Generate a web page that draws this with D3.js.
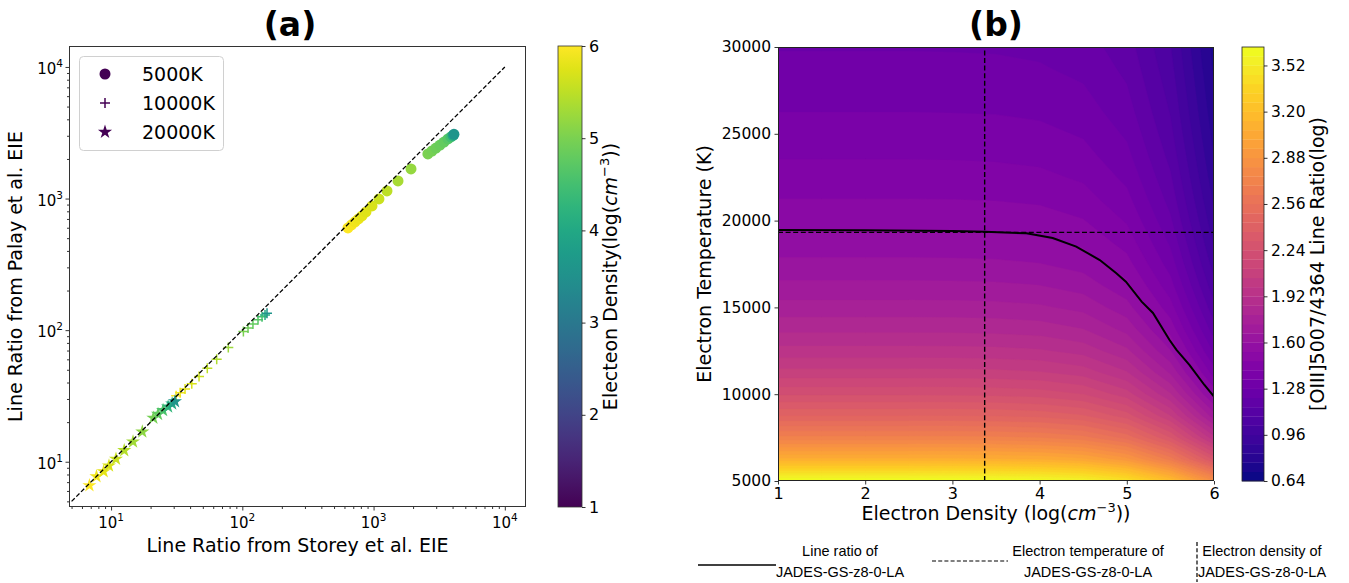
<!DOCTYPE html>
<meta charset="utf-8">
<body>
</body>
<style>
	body { margin: 0; background: #fff; }
	svg text { font-family: "DejaVu Sans", sans-serif; fill: #000; }
	.legendB { font-family: "Liberation Sans", "DejaVu Sans", sans-serif; }
</style>
<script src="https://d3js.org/d3.v7.min.js"></script>
<script>

// ---------- panel (a): line ratios ----------
var storey5000 = [638, 679, 722, 767, 816, 875, 973, 1099, 1265, 1535, 1928, 2594, 2785, 2987, 3206, 3439, 3689, 3883, 4027, 4096];
var palay5000  = [598, 631, 665, 700, 738, 791, 879, 993, 1143, 1361, 1680, 2183, 2298, 2421, 2551, 2689, 2838, 2938, 3016, 3077];
var dens5000   = [6.0, 5.95, 5.9, 5.85, 5.8, 5.75, 5.7, 5.6, 5.5, 5.35, 5.2, 5.0, 4.95, 4.9, 4.85, 4.8, 4.7, 4.5, 4.1, 3.6];

var storey10000 = [31.3, 33.6, 36.6, 41.2, 46.8, 54.1, 63.8, 78.2, 101.9, 110.5, 120.5, 131.7, 141.3, 148.9, 154.2];
var palay10000  = [31.7, 33.4, 35.7, 39.1, 44.4, 51.4, 60.2, 73.8, 97.5, 104, 111.6, 119.7, 126.2, 130.6, 134.6];
var dens10000   = [6.0, 5.9, 5.8, 5.7, 5.6, 5.5, 5.4, 5.25, 5.0, 4.9, 4.8, 4.7, 4.5, 4.1, 3.6];

var storey20000 = [6.84, 7.74, 8.78, 9.64, 10.9, 12.6, 14.7, 17.3, 21.0, 22.8, 24.9, 27.2, 29.2, 30.7];
var palay20000  = [6.6, 7.73, 8.44, 9.33, 10.5, 12.2, 14.2, 16.9, 21.5, 23.0, 24.6, 26.2, 27.6, 28.7];
var dens20000   = [6.0, 5.9, 5.8, 5.7, 5.6, 5.45, 5.3, 5.15, 4.95, 4.8, 4.6, 4.3, 4.0, 3.6];

var tempLabels = ["5000K", "10000K", "20000K"];
var decadeTicks = [10, 100, 1000, 10000];
var decadeExp = ["1", "2", "3", "4"];
var densTicks = [1, 2, 3, 4, 5, 6];

// ---------- panel (b): log line ratio grid (rows: temperature, top to bottom) ----------
var gridDensity = [1, 1.5, 2, 2.5, 3, 3.5, 4, 4.5, 5, 5.5, 6];
var gridTemp = [30000, 28750, 27500, 26250, 25000, 23750, 22500, 21250, 20000, 18750, 17500,
	16250, 15000, 13750, 12500, 11250, 10000, 8750, 7500, 6250, 5000];
var ratioGrid = [
	[1.276, 1.276, 1.276, 1.276, 1.275, 1.273, 1.266, 1.244, 1.182, 1.029, 0.741],
	[1.297, 1.297, 1.297, 1.297, 1.296, 1.294, 1.286, 1.264, 1.201, 1.046, 0.756],
	[1.320, 1.320, 1.320, 1.320, 1.319, 1.317, 1.309, 1.287, 1.222, 1.065, 0.772],
	[1.344, 1.344, 1.344, 1.344, 1.343, 1.341, 1.333, 1.310, 1.244, 1.084, 0.789],
	[1.372, 1.372, 1.372, 1.372, 1.371, 1.368, 1.361, 1.337, 1.270, 1.107, 0.809],
	[1.402, 1.402, 1.402, 1.402, 1.401, 1.398, 1.390, 1.366, 1.297, 1.132, 0.831],
	[1.435, 1.435, 1.435, 1.435, 1.434, 1.431, 1.423, 1.398, 1.328, 1.160, 0.855],
	[1.472, 1.472, 1.472, 1.472, 1.471, 1.468, 1.460, 1.434, 1.362, 1.191, 0.883],
	[1.514, 1.514, 1.514, 1.514, 1.513, 1.510, 1.501, 1.475, 1.401, 1.226, 0.915],
	[1.562, 1.562, 1.562, 1.562, 1.561, 1.558, 1.549, 1.522, 1.446, 1.268, 0.953],
	[1.616, 1.616, 1.616, 1.616, 1.615, 1.612, 1.602, 1.575, 1.496, 1.314, 0.995],
	[1.679, 1.679, 1.679, 1.679, 1.678, 1.675, 1.665, 1.636, 1.555, 1.369, 1.046],
	[1.753, 1.753, 1.753, 1.753, 1.752, 1.748, 1.738, 1.708, 1.625, 1.434, 1.107],
	[1.839, 1.839, 1.839, 1.839, 1.838, 1.834, 1.824, 1.792, 1.706, 1.510, 1.178],
	[1.943, 1.943, 1.943, 1.943, 1.942, 1.938, 1.927, 1.894, 1.805, 1.603, 1.266],
	[2.070, 2.070, 2.070, 2.070, 2.069, 2.065, 2.053, 2.019, 1.925, 1.717, 1.375],
	[2.229, 2.229, 2.229, 2.229, 2.228, 2.223, 2.211, 2.175, 2.077, 1.862, 1.513],
	[2.433, 2.433, 2.433, 2.433, 2.432, 2.427, 2.414, 2.375, 2.272, 2.049, 1.693],
	[2.705, 2.705, 2.705, 2.705, 2.704, 2.698, 2.684, 2.643, 2.533, 2.301, 1.938],
	[3.086, 3.086, 3.086, 3.086, 3.085, 3.079, 3.064, 3.019, 2.901, 2.658, 2.286],
	[3.658, 3.658, 3.658, 3.658, 3.657, 3.650, 3.633, 3.583, 3.455, 3.199, 2.816]
];
var ratioTicks = [0.64, 0.96, 1.28, 1.60, 1.92, 2.24, 2.56, 2.88, 3.20, 3.52];
var levelStep = 0.064, levelCount = 47;

// contour of the observed ratio, and the measured Te / ne
var lineDens = [1, 2, 3, 3.37, 3.85, 4.15, 4.42, 4.69, 4.88, 4.99, 5.17, 5.30, 5.49, 5.57, 5.72, 5.89, 6.0];
var lineTemp = [19460, 19440, 19400, 19360, 19270, 19000, 18500, 17730, 16970, 16480, 15330, 14680, 13120, 12550, 11680, 10530, 9860];
var measDens = 3.37, measTemp = 19320;

var tempTicks = [5000, 10000, 15000, 20000, 25000, 30000];
var legendB = [["Line ratio of", "JADES-GS-z8-0-LA"],
	["Electron temperature of", "JADES-GS-z8-0-LA"],
	["Electron density of", "JADES-GS-z8-0-LA"]];

var width = 1349, height = 583;
var svg = d3.select("body").append("svg")
	.attr("width", width)
	.attr("height", height);

/*
 * Tidies a d3 axis so it looks like matplotlib.
 */
function styleAxis(g, size) {
	g.select(".domain").remove();
	g.attr("font-family", "DejaVu Sans").attr("font-size", size || 15);
	g.selectAll(".tick line").attr("stroke", "#000").attr("stroke-width", 0.8);
	g.selectAll(".tick text").attr("fill", "#000");
}

/*
 * Writes "10" with a raised exponent.
 */
function powerLabel(sel, exp) {
	sel.append("tspan").text("10");
	sel.append("tspan").attr("font-size", 10.5).attr("dy", -7).text(exp);
}

// ================= panel (a) =================
var pa = {left: 69, right: 526, top: 46, bottom: 507};
var xA = d3.scaleLog().domain([4.78, 14500]).range([pa.left, pa.right]);
var yA = d3.scaleLog().domain([4.53, 14430]).range([pa.bottom, pa.top]);
var viridis = d3.scaleSequential(d3.interpolateViridis).domain([1, 6]);

svg.append("clipPath").attr("id", "clipA").append("rect")
	.attr("x", pa.left).attr("y", pa.top)
	.attr("width", pa.right - pa.left).attr("height", pa.bottom - pa.top);

var minor = [];
[1, 10, 100, 1000, 10000].forEach(function (p) {
	for (var k = 2; k <= 9; k++) minor.push(k * p);
});
var minorX = minor.filter(function (v) { return v > xA.domain()[0] && v < xA.domain()[1]; });
var minorY = minor.filter(function (v) { return v > yA.domain()[0] && v < yA.domain()[1]; });

var plotA = svg.append("g").attr("clip-path", "url(#clipA)");

var seriesA = [
	{label: tempLabels[0], shape: "circle", x: storey5000, y: palay5000, d: dens5000},
	{label: tempLabels[1], shape: "plus", x: storey10000, y: palay10000, d: dens10000},
	{label: tempLabels[2], shape: "star", x: storey20000, y: palay20000, d: dens20000}
];

var starPath = d3.symbol(d3.symbolStar, 62)();
var plusPath = "M-5,0H5M0,-5V5";

function drawMarker(g, shape, color) {
	if (shape === "circle") {
		g.append("circle").attr("r", 5.5).attr("fill", color);
	} else if (shape === "plus") {
		g.append("path").attr("d", plusPath).attr("fill", "none")
			.attr("stroke", color).attr("stroke-width", 1.5);
	} else {
		g.append("path").attr("d", starPath).attr("fill", color);
	}
}

seriesA.forEach(function (s) {
	s.x.forEach(function (xv, i) {
		var g = plotA.append("g")
			.attr("transform", "translate(" + xA(xv) + "," + yA(s.y[i]) + ")");
		drawMarker(g, s.shape, viridis(s.d[i]));
	});
});

// one-to-one line
plotA.append("path")
	.attr("d", d3.line().x(function (d) { return xA(d); }).y(function (d) { return yA(d); })([5, 10000]))
	.attr("fill", "none").attr("stroke", "#000").attr("stroke-width", 1.3)
	.attr("stroke-dasharray", "4.5,2.2");

// axes (a)
var gxA = svg.append("g").attr("transform", "translate(0," + pa.bottom + ")")
	.call(d3.axisBottom(xA).tickValues(decadeTicks).tickFormat("").tickSize(3.5));
styleAxis(gxA);
var gxAm = svg.append("g").attr("transform", "translate(0," + pa.bottom + ")")
	.call(d3.axisBottom(xA).tickValues(minorX).tickFormat("").tickSize(2));
styleAxis(gxAm);
var gyA = svg.append("g").attr("transform", "translate(" + pa.left + ",0)")
	.call(d3.axisLeft(yA).tickValues(decadeTicks).tickFormat("").tickSize(3.5));
styleAxis(gyA);
var gyAm = svg.append("g").attr("transform", "translate(" + pa.left + ",0)")
	.call(d3.axisLeft(yA).tickValues(minorY).tickFormat("").tickSize(2));
styleAxis(gyAm);

decadeTicks.forEach(function (v, i) {
	if (v >= xA.domain()[0] && v <= xA.domain()[1]) {
		var t = svg.append("text").attr("x", xA(v)).attr("y", 528)
			.attr("text-anchor", "middle").attr("font-size", 15);
		powerLabel(t, decadeExp[i]);
	}
	if (v >= yA.domain()[0] && v <= yA.domain()[1]) {
		var u = svg.append("text").attr("x", pa.left - 6).attr("y", yA(v) + 7)
			.attr("text-anchor", "end").attr("font-size", 15);
		powerLabel(u, decadeExp[i]);
	}
});

svg.append("rect")
	.attr("x", pa.left + 0.5).attr("y", pa.top + 0.5)
	.attr("width", pa.right - pa.left - 1).attr("height", pa.bottom - pa.top - 1)
	.attr("fill", "none").attr("stroke", "#333").attr("stroke-width", 1);

// legend (a)
var legA = svg.append("g");
legA.append("rect").attr("x", 79.5).attr("y", 56.5).attr("width", 144).attr("height", 94)
	.attr("rx", 4).attr("fill", "#fff").attr("fill-opacity", 0.8)
	.attr("stroke", "#d0d0d0").attr("stroke-width", 1);
var legRows = [74, 103, 132];
seriesA.forEach(function (s, i) {
	var g = legA.append("g").attr("transform", "translate(105," + legRows[i] + ")");
	drawMarker(g, s.shape, viridis(1));
	legA.append("text").attr("x", 142).attr("y", legRows[i]).attr("dy", "0.36em")
		.attr("font-size", 19).text(s.label);
});

// titles and labels (a)
svg.append("text").attr("x", 290).attr("y", 36).attr("text-anchor", "middle")
	.attr("font-size", 33).attr("font-weight", "bold").text("(a)");
svg.append("text").attr("x", (pa.left + pa.right) / 2).attr("y", 552)
	.attr("text-anchor", "middle").attr("font-size", 19)
	.text("Line Ratio from Storey et al. EIE");
svg.append("text").attr("transform", "translate(22," + (pa.top + pa.bottom) / 2 + ") rotate(-90)")
	.attr("text-anchor", "middle").attr("font-size", 19)
	.text("Line Ratio from Palay et al. EIE");

// colorbar (a)
var cbA = {x: 558, w: 24, top: 46, bottom: 507};
var grad = svg.append("defs").append("linearGradient").attr("id", "viridisGrad")
	.attr("x1", 0).attr("y1", 1).attr("x2", 0).attr("y2", 0);
d3.range(0, 1.0001, 0.05).forEach(function (t) {
	grad.append("stop").attr("offset", t).attr("stop-color", d3.interpolateViridis(t));
});
svg.append("rect").attr("x", cbA.x).attr("y", cbA.top).attr("width", cbA.w)
	.attr("height", cbA.bottom - cbA.top).attr("fill", "url(#viridisGrad)")
	.attr("stroke", "#333").attr("stroke-width", 0.8);
var cbAScale = d3.scaleLinear().domain([1, 6]).range([cbA.bottom, cbA.top]);
var gcA = svg.append("g").attr("transform", "translate(" + (cbA.x + cbA.w) + ",0)")
	.call(d3.axisRight(cbAScale).tickValues(densTicks).tickFormat(d3.format("d"))
		.tickSize(3.5).tickPadding(3.5));
styleAxis(gcA, 16);

var cbLab = svg.append("text")
	.attr("transform", "translate(617," + (cbA.top + cbA.bottom) / 2 + ") rotate(-90)")
	.attr("text-anchor", "middle").attr("font-size", 19);
cbLab.append("tspan").text("Electeon Density(log(");
cbLab.append("tspan").attr("font-style", "italic").text("cm");
cbLab.append("tspan").attr("font-size", 13).attr("dy", -8).text("\u22123");
cbLab.append("tspan").attr("dy", 8).text("))");

// ================= panel (b) =================
var pb = {left: 778, right: 1214, top: 47, bottom: 481};
var xB = d3.scaleLinear().domain([1, 6]).range([pb.left, pb.right]);
var yB = d3.scaleLinear().domain([5000, 30000]).range([pb.bottom, pb.top]);

svg.append("clipPath").attr("id", "clipB").append("rect")
	.attr("x", pb.left).attr("y", pb.top)
	.attr("width", pb.right - pb.left).attr("height", pb.bottom - pb.top);

var levels = d3.range(levelCount + 1).map(function (k) { return ratioTicks[0] + k * levelStep; });
var nx = gridDensity.length, ny = gridTemp.length;
var flat = [];
ratioGrid.forEach(function (row) { row.forEach(function (v) { flat.push(v); }); });

var bands = d3.contours().size([nx, ny]).thresholds(levels.slice(0, levelCount))(flat);
var colIdx = d3.scaleLinear().domain([0.5, nx - 0.5])
	.range([gridDensity[0], gridDensity[nx - 1]]).clamp(true);
var rowIdx = d3.scaleLinear().domain([0.5, ny - 0.5])
	.range([gridTemp[0], gridTemp[ny - 1]]).clamp(true);
var gridProj = d3.geoTransform({
	point: function (px, py) { this.stream.point(xB(colIdx(px)), yB(rowIdx(py))); }
});
var bandColor = function (k) { return d3.interpolatePlasma(k / (levelCount - 1)); };

var plotB = svg.append("g").attr("clip-path", "url(#clipB)");
plotB.selectAll("path.band")
	.data(bands)
	.enter().append("path")
	.attr("class", "band")
	.attr("d", d3.geoPath(gridProj))
	.attr("fill", function (d, i) { return bandColor(i); })
	.attr("stroke", function (d, i) { return bandColor(i); })
	.attr("stroke-width", 0.4);

// observed line ratio contour
plotB.append("path")
	.attr("d", d3.line()
		.x(function (d) { return xB(d[0]); })
		.y(function (d) { return yB(d[1]); })(d3.zip(lineDens, lineTemp)))
	.attr("fill", "none").attr("stroke", "#000").attr("stroke-width", 2);

plotB.append("line")
	.attr("x1", xB(1)).attr("x2", xB(6)).attr("y1", yB(measTemp)).attr("y2", yB(measTemp))
	.attr("stroke", "#000").attr("stroke-width", 1.4).attr("stroke-dasharray", "5,2.6");
plotB.append("line")
	.attr("x1", xB(measDens)).attr("x2", xB(measDens)).attr("y1", yB(5000)).attr("y2", yB(30000))
	.attr("stroke", "#000").attr("stroke-width", 1.4).attr("stroke-dasharray", "5,2.6");

var gxB = svg.append("g").attr("transform", "translate(0," + pb.bottom + ")")
	.call(d3.axisBottom(xB).tickValues(densTicks).tickFormat(d3.format("d"))
		.tickSize(3.5).tickPadding(3.5));
styleAxis(gxB, 16);
var gyB = svg.append("g").attr("transform", "translate(" + pb.left + ",0)")
	.call(d3.axisLeft(yB).tickValues(tempTicks).tickFormat(d3.format("d"))
		.tickSize(3.5).tickPadding(3.5));
styleAxis(gyB, 15.5);

svg.append("rect")
	.attr("x", pb.left + 0.5).attr("y", pb.top + 0.5)
	.attr("width", pb.right - pb.left - 1).attr("height", pb.bottom - pb.top - 1)
	.attr("fill", "none").attr("stroke", "#222").attr("stroke-width", 1);

svg.append("text").attr("x", (pb.left + pb.right) / 2).attr("y", 36).attr("text-anchor", "middle")
	.attr("font-size", 33).attr("font-weight", "bold").text("(b)");

var xLabB = svg.append("text").attr("x", (pb.left + pb.right) / 2).attr("y", 520)
	.attr("text-anchor", "middle").attr("font-size", 19);
xLabB.append("tspan").text("Electron Density (log(");
xLabB.append("tspan").attr("font-style", "italic").text("cm");
xLabB.append("tspan").attr("font-size", 13).attr("dy", -8).text("\u22123");
xLabB.append("tspan").attr("dy", 8).text("))");

svg.append("text").attr("transform", "translate(711," + (pb.top + pb.bottom) / 2 + ") rotate(-90)")
	.attr("text-anchor", "middle").attr("font-size", 19).text("Electron Temperature (K)");

// colorbar (b)
var cbB = {x: 1242, w: 22, top: 47, bottom: 481};
var cbBScale = d3.scaleLinear().domain([levels[0], levels[levelCount]]).range([cbB.bottom, cbB.top]);
svg.selectAll("rect.cbband")
	.data(d3.range(levelCount))
	.enter().append("rect")
	.attr("class", "cbband")
	.attr("x", cbB.x).attr("width", cbB.w)
	.attr("y", function (k) { return cbBScale(levels[k + 1]); })
	.attr("height", function (k) { return cbBScale(levels[k]) - cbBScale(levels[k + 1]) + 0.3; })
	.attr("fill", function (k) { return bandColor(k); });
svg.append("rect").attr("x", cbB.x).attr("y", cbB.top).attr("width", cbB.w)
	.attr("height", cbB.bottom - cbB.top).attr("fill", "none")
	.attr("stroke", "#222").attr("stroke-width", 0.8);
var gcB = svg.append("g").attr("transform", "translate(" + (cbB.x + cbB.w) + ",0)")
	.call(d3.axisRight(cbBScale).tickValues(ratioTicks).tickFormat(d3.format(".2f"))
		.tickSize(3.5).tickPadding(3.5));
styleAxis(gcB, 15.5);

svg.append("text").attr("transform", "translate(1324," + (cbB.top + cbB.bottom) / 2 + ") rotate(-90)")
	.attr("text-anchor", "middle").attr("font-size", 19).text("[OIII]5007/4364 Line Ratio(log)");

// legend below panel (b)
var legB = svg.append("g");
legB.append("line").attr("x1", 698).attr("x2", 776).attr("y1", 565).attr("y2", 565)
	.attr("stroke", "#000").attr("stroke-width", 1.5);
legB.append("line").attr("x1", 932).attr("x2", 1008).attr("y1", 561).attr("y2", 561)
	.attr("stroke", "#000").attr("stroke-width", 1.2).attr("stroke-dasharray", "4,2.2");
legB.append("line").attr("x1", 1197).attr("x2", 1197).attr("y1", 542).attr("y2", 582)
	.attr("stroke", "#000").attr("stroke-width", 1.2).attr("stroke-dasharray", "4,2.2");
var legBx = [840, 1088, 1262];
legendB.forEach(function (rows, i) {
	rows.forEach(function (r, j) {
		legB.append("text").attr("class", "legendB")
			.attr("x", legBx[i]).attr("y", 556 + j * 21)
			.attr("text-anchor", "middle").attr("font-size", 14.5).text(r);
	});
});
</script>
